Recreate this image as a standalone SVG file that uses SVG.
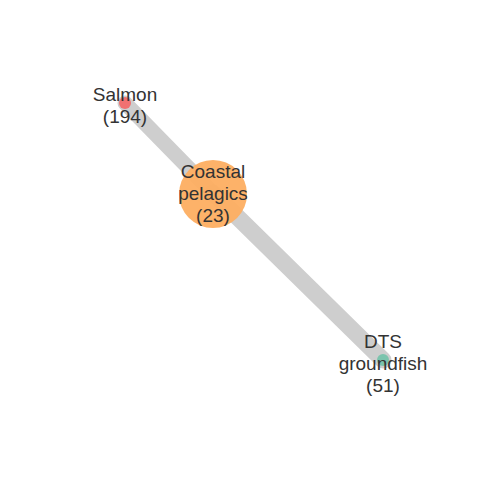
<svg xmlns="http://www.w3.org/2000/svg" width="480" height="480" viewBox="0 0 480 480">
<style>
.edge{stroke:#bebebe;stroke-opacity:0.75;stroke-linecap:round;fill:none}
.lbl{font-family:"Liberation Sans",Arial,sans-serif;font-size:19px;fill:#333333;text-anchor:middle}
</style>
<rect width="480" height="480" fill="#ffffff"/>
<g id="connectors">
<line class="edge" x1="125" y1="103" x2="213" y2="193" stroke-width="15"/>
<line class="edge" x1="213" y1="193" x2="383" y2="360" stroke-width="17"/>
</g>
<g id="node-coastal">
<circle cx="213" cy="194" r="34" fill="#fdae61" fill-opacity="0.95"/>
<text class="lbl" x="213" y="178">Coastal</text>
<text class="lbl" x="213" y="200">pelagics</text>
<text class="lbl" x="213" y="222">(23)</text>
</g>
<g id="node-salmon">
<circle cx="125" cy="103" r="6" fill="#f26b6b" fill-opacity="0.95"/>
<text class="lbl" x="125" y="101">Salmon</text>
<text class="lbl" x="125" y="123">(194)</text>
</g>
<g id="node-dts">
<circle cx="383" cy="360" r="6" fill="#66c2a5" fill-opacity="0.8"/>
<text class="lbl" x="383" y="348">DTS</text>
<text class="lbl" x="383" y="370">groundfish</text>
<text class="lbl" x="383" y="392">(51)</text>
</g>
</svg>
